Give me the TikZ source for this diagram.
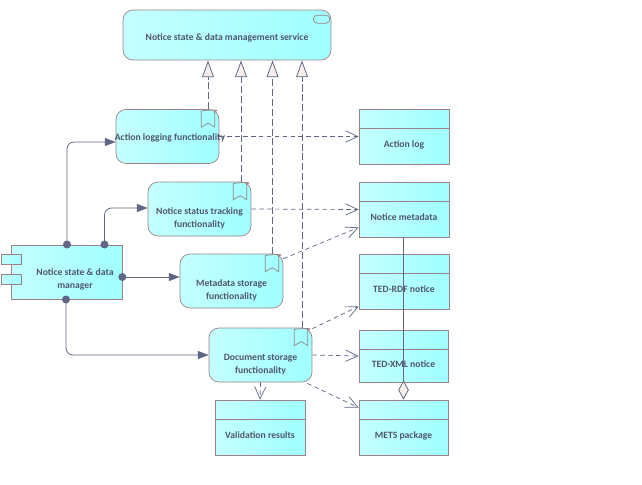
\documentclass[tikz,border=0pt]{standalone}
\usepackage{fontspec}
\setmainfont{Carlito}
\usetikzlibrary{arrows.meta,calc}
\definecolor{cyanlight}{HTML}{C4FFFF}
\definecolor{cyanfull}{HTML}{A0FFFF}
\definecolor{edgegray}{HTML}{9A8285}
\definecolor{linkblue}{HTML}{5F6785}
\definecolor{labelgray}{HTML}{4F566E}
\definecolor{tipfill}{HTML}{F8EFEA}
\tikzset{
	labeltext/.style={inner sep=0pt, align=center, text=labelgray, font=\fontsize{5.5}{7.4}\selectfont\bfseries},
	element/.style={labeltext, draw=edgegray, line width=0.4pt, left color=cyanlight, right color=cyanfull},
	service/.style={element, rounded corners=5.6pt, minimum width=4.16cm, minimum height=1cm},
	functionality/.style={element, inner xsep=-4pt, rounded corners=5.6pt, minimum width=2.06cm, minimum height=1.08cm},
	databox/.style={element, minimum width=1.8cm, minimum height=1.1cm},
	compbox/.style={element, minimum width=2.22cm, minimum height=1.08cm},
	portbox/.style={element, minimum width=0.4cm, minimum height=0.2cm},
	assign/.style={draw=linkblue, line width=0.45pt, rounded corners=4pt, shorten <=-2.25pt, {Circle[length=4.5pt]}-{Triangle[length=6.2pt,width=4.6pt]}},
	realize/.style={draw=linkblue, line width=0.45pt, dash pattern=on 4pt off 1.6pt, -{Triangle[open,length=9.5pt,width=6.8pt,fill=tipfill]}},
	access/.style={draw=linkblue, line width=0.4pt, dash pattern=on 2.6pt off 1.9pt, -{Straight Barb[length=7pt,width=6.5pt]}},
	compose/.style={draw=linkblue, line width=0.45pt, {Diamond[open,length=11pt,width=6pt,fill=tipfill]}-}
}
\newcommand{\bookmarkicon}[1]{
	\draw[edgegray, line width=0.4pt] ($(#1.north east)+(-18,2)$) .. controls +(4,-1.5) and +(9,-1.5) .. ++(13.5,0) -- ++(0,16) -- ++(-6.75,-4) -- ++(-6.75,4) -- cycle;
}
\begin{document}
\begin{tikzpicture}[x=0.02cm,y=-0.02cm]
	\useasboundingbox (0,0) rectangle (642,484);
	% behaviour
	\node[service] (service) at (227,35) {\\[0pt]Notice state \& data management service};
	\node[functionality] (logging) at (167.5,136.5) {\\[-1.7pt]\hspace*{2.8pt}Action logging functionality};
	\node[functionality] (tracking) at (199.5,209) {\\[7.3pt]Notice status tracking\\functionality};
	\node[functionality] (metadata) at (231.5,281) {\\[7.3pt]Metadata storage\\functionality};
	\node[functionality] (document) at (260.5,355) {\\[7.3pt]Document storage\\functionality};
	% component
	\node[compbox] (manager) at (66.5,272) {};
	\node[labeltext] (managerlabel) at (75,279.5) {Notice state \& data\\manager};
	\node[portbox] (portup) at (11,259) {};
	\node[portbox] (portdown) at (11,279) {};
	% data objects
	\node[databox] (actionlog) at (404,136.5) {\\[5.6pt]Action log};
	\node[databox] (noticemeta) at (404,209.5) {\\[5.6pt]Notice metadata};
	\node[databox] (tedrdf) at (404,281.5) {\\[5.6pt]TED-RDF notice};
	\node[databox, minimum width=1.78cm, minimum height=1.04cm] (tedxml) at (403.5,356) {\\[5.6pt]TED-XML notice};
	\node[databox, minimum width=1.78cm] (mets) at (403.5,427.5) {\\[5.6pt]METS package};
	\node[databox] (validation) at (260,427.5) {\\[5.6pt]Validation results};
	\foreach \n in {actionlog,noticemeta,tedrdf,tedxml,mets,validation} {
		\draw[edgegray, line width=0.4pt] ($(\n.north west)+(0,20)$) -- ($(\n.north east)+(0,20)$);
	}
	% icons
	\foreach \n in {logging,tracking,metadata,document} {
		\bookmarkicon{\n}
	}
	\draw[edgegray, line width=0.4pt, rounded corners=2.2pt] ($(service.north east)+(-18,5.5)$) rectangle ($(service.north east)+(-1.5,13.5)$);
	% realization
	\coordinate (tipa) at (208,60.5);
	\coordinate (tipb) at (241,60.5);
	\coordinate (tipc) at (272.5,60.5);
	\coordinate (tipd) at (302,60.5);
	\draw[realize] (logging.north -| tipa) -- (tipa);
	\draw[realize] (tracking.north -| tipb) -- (tipb);
	\draw[realize] (metadata.north -| tipc) -- (tipc);
	\draw[realize] (document.north -| tipd) -- (tipd);
	% assignment
	\coordinate (dota) at (67,244.5);
	\coordinate (dotb) at (104.5,244.5);
	\coordinate (dotd) at (66,299.5);
	\draw[assign] (dota) |- ($(logging.west)+(0,5.5)$);
	\draw[assign] (dotb) |- ($(tracking.west)+(0,-1)$);
	\draw[assign] ($(manager.east)+(0,5)$) -- ($(metadata.west)+(0,-4)$);
	\draw[assign] (dotd) |- (document.west);
	% access
	\draw[access] (logging.east) -- (actionlog.west);
	\draw[access] (tracking.east) -- (noticemeta.west);
	\draw[access] ($(metadata.north east)+(0,5)$) -- ($(noticemeta.south west)+(0,-10)$);
	\draw[access] ($(document.north east)+(0,1)$) -- ($(tedrdf.south west)+(0,-3)$);
	\draw[access] (document.east) -- (tedxml.west);
	\draw[access] ($(document.south east)+(-5,1)$) -- ($(mets.north west)+(0,8)$);
	\draw[access] (document.south) -- (validation.north);
	% composition
	\draw[compose] (mets.north) -- (noticemeta.south -| mets.north);
\end{tikzpicture}
\end{document}
